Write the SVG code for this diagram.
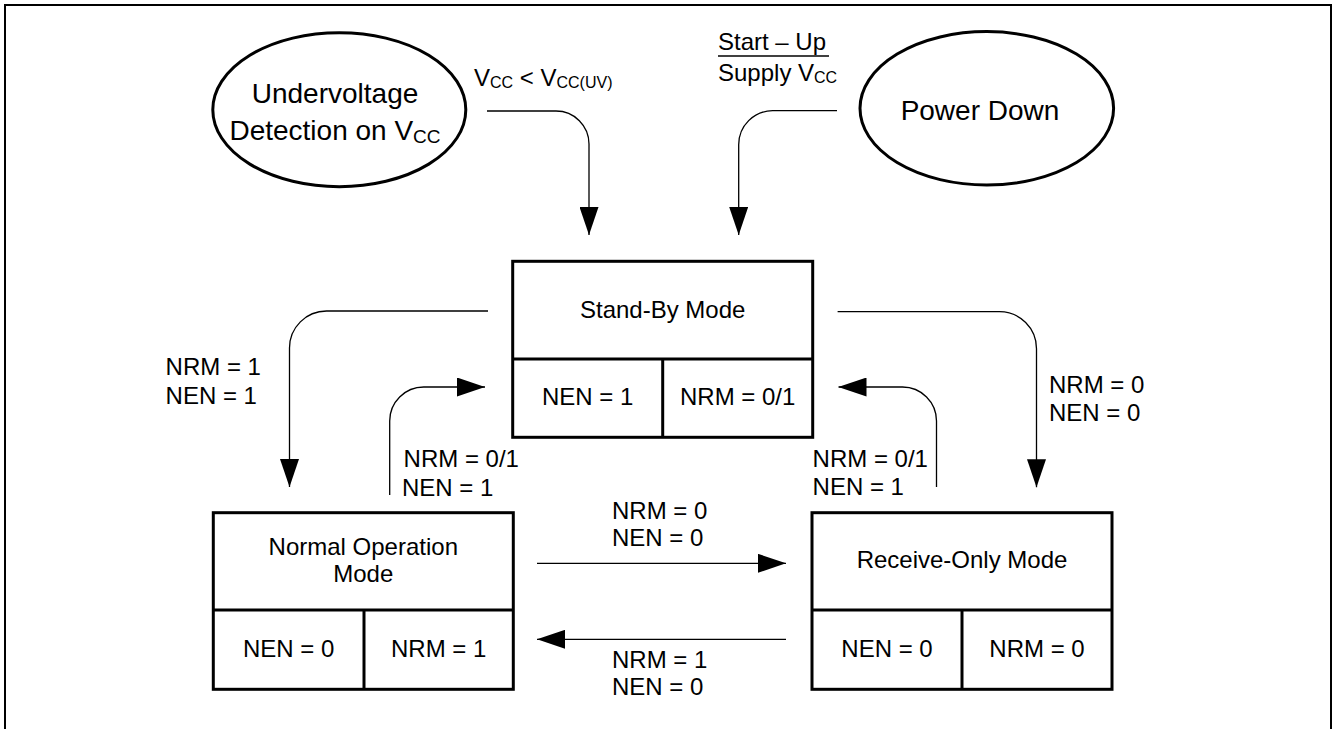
<svg xmlns="http://www.w3.org/2000/svg" width="1334" height="729" viewBox="0 0 1334 729">
<style>
text{font-family:"Liberation Sans",Arial,sans-serif;fill:#000}
.lbl{font-size:24px}
.box{font-size:24px;text-anchor:middle}
.ell{font-size:28px;text-anchor:middle}
.shape{fill:#fff;stroke:#000;stroke-width:3}
.div{stroke:#000;stroke-width:3}
.conn{fill:none;stroke:#000;stroke-width:1.3}
</style>
<defs>
<marker id="ah" markerUnits="userSpaceOnUse" markerWidth="28" markerHeight="19" refX="28" refY="9.5" orient="auto">
<path d="M0,0 L28,9.5 L0,19 Z" fill="#000"/>
</marker>
</defs>
<rect width="1334" height="729" fill="#fff"/>
<path d="M5,729 V5 H1331 V729" fill="none" stroke="#000" stroke-width="2"/>

<g id="undervoltage">
<ellipse class="shape" cx="339.3" cy="109.7" rx="126.5" ry="77"/>
<text class="ell" x="335" y="103">Undervoltage</text>
<text class="ell" x="335" y="140">Detection on V<tspan font-size="19" dy="3">CC</tspan></text>
</g>

<g id="powerdown">
<ellipse class="shape" cx="986.8" cy="108.3" rx="126.8" ry="76.7"/>
<text class="ell" x="980" y="120">Power Down</text>
</g>

<g id="standby">
<rect class="shape" x="512.7" y="261.3" width="300" height="176"/>
<line class="div" x1="512.7" y1="359" x2="812.7" y2="359"/>
<line class="div" x1="662.7" y1="359" x2="662.7" y2="437.3"/>
<text class="box" x="662.7" y="318">Stand-By Mode</text>
<text class="box" x="587.7" y="405">NEN = 1</text>
<text class="box" x="737.7" y="405">NRM = 0/1</text>
</g>

<g id="normal">
<rect class="shape" x="213.3" y="512.7" width="300" height="176.6"/>
<line class="div" x1="213.3" y1="610" x2="513.3" y2="610"/>
<line class="div" x1="364" y1="610" x2="364" y2="689.3"/>
<text class="box" x="363.3" y="555">Normal Operation</text>
<text class="box" x="363.3" y="582">Mode</text>
<text class="box" x="288.7" y="657">NEN = 0</text>
<text class="box" x="438.7" y="657">NRM = 1</text>
</g>

<g id="receive">
<rect class="shape" x="812" y="512.7" width="300" height="176.6"/>
<line class="div" x1="812" y1="610" x2="1112" y2="610"/>
<line class="div" x1="962" y1="610" x2="962" y2="689.3"/>
<text class="box" x="962" y="568">Receive-Only Mode</text>
<text class="box" x="887" y="657">NEN = 0</text>
<text class="box" x="1037" y="657">NRM = 0</text>
</g>

<g id="connectors">
<path class="conn" marker-end="url(#ah)" d="M487,111 H556 A33,33 0 0 1 589,144 V235"/>
<path class="conn" marker-end="url(#ah)" d="M837,110.7 H772.7 A34,34 0 0 0 738.7,144.7 V235"/>
<path class="conn" marker-end="url(#ah)" d="M488,311 H326.5 A37,37 0 0 0 289.5,348 V487"/>
<path class="conn" marker-end="url(#ah)" d="M389.7,495 V421 A34,34 0 0 1 423.7,387 H485"/>
<path class="conn" marker-end="url(#ah)" d="M837.6,311.7 H999.5 A37,37 0 0 1 1036.5,348.7 V487.3"/>
<path class="conn" marker-end="url(#ah)" d="M936.5,487 V421 A34,34 0 0 0 902.5,387 H838.5"/>
<path class="conn" marker-end="url(#ah)" d="M537,563.3 H786"/>
<path class="conn" marker-end="url(#ah)" d="M786,639.3 H537"/>
</g>

<g id="labels">
<text class="lbl" x="474" y="86">V<tspan font-size="16" dy="2">CC</tspan><tspan dy="-2"> &lt; V</tspan><tspan font-size="16" dy="2">CC(UV)</tspan></text>
<text class="lbl" x="718" y="50">Start – Up</text>
<line x1="718" y1="56" x2="829" y2="56" stroke="#000" stroke-width="1.5"/>
<text class="lbl" x="718" y="81">Supply V<tspan font-size="16" dy="2">CC</tspan></text>
<text class="lbl" x="165.6" y="375">NRM = 1</text>
<text class="lbl" x="165.6" y="404">NEN = 1</text>
<text class="lbl" x="403.6" y="466.7">NRM = 0/1</text>
<text class="lbl" x="402" y="496">NEN = 1</text>
<text class="lbl" x="812.6" y="466.7">NRM = 0/1</text>
<text class="lbl" x="812.6" y="495">NEN = 1</text>
<text class="lbl" x="1049" y="393">NRM = 0</text>
<text class="lbl" x="1049" y="421">NEN = 0</text>
<text class="lbl" x="612" y="519">NRM = 0</text>
<text class="lbl" x="612" y="546">NEN = 0</text>
<text class="lbl" x="612" y="668">NRM = 1</text>
<text class="lbl" x="612" y="695">NEN = 0</text>
</g>
</svg>
